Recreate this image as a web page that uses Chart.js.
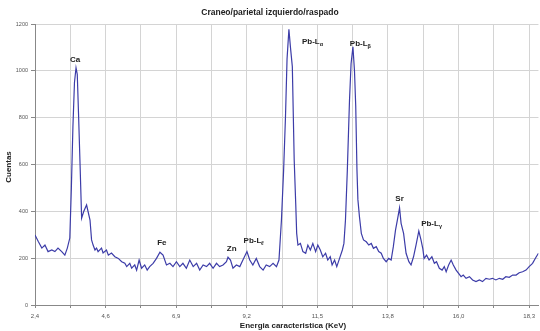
<!DOCTYPE html>
<html>
<head>
<meta charset="utf-8">
<script src="https://cdn.jsdelivr.net/npm/chart.js@4.4.0/dist/chart.umd.min.js"></script>
<style>
    html, body { margin: 0; padding: 0; background: #fff; }
</style>
</head>
<body>
<canvas id="espectro" width="540" height="331"></canvas>
<script>
// Espectro XRF - craneo / parietal izquierdo / raspado

// energia (keV) y cuentas
const energia = [
    2.40, 2.51, 2.62, 2.72, 2.82, 2.94, 3.04, 3.14, 3.26, 3.36, 3.44, 3.52, 3.57, 3.62, 3.67, 3.72,
    3.76, 3.80, 3.85, 3.90, 3.97, 4.06, 4.17, 4.22, 4.27, 4.33, 4.38, 4.43, 4.54, 4.59, 4.70, 4.76,
    4.86, 4.97, 5.08, 5.19, 5.29, 5.35, 5.45, 5.51, 5.61, 5.67, 5.75, 5.83, 5.93, 6.01, 6.09, 6.20,
    6.31, 6.42, 6.52, 6.63, 6.74, 6.84, 6.95, 7.06, 7.16, 7.27, 7.38, 7.49, 7.60, 7.70, 7.81, 7.92,
    8.02, 8.13, 8.24, 8.34, 8.45, 8.56, 8.61, 8.69, 8.77, 8.88, 8.99, 9.09, 9.22, 9.31, 9.41, 9.52,
    9.63, 9.74, 9.84, 9.95, 10.06, 10.17, 10.25, 10.33, 10.40, 10.46, 10.51, 10.57, 10.62, 10.68, 10.74, 10.79,
    10.82, 10.86, 10.94, 11.02, 11.11, 11.18, 11.26, 11.34, 11.43, 11.50, 11.58, 11.66, 11.75, 11.82, 11.90, 11.96,
    12.04, 12.11, 12.20, 12.29, 12.34, 12.39, 12.45, 12.52, 12.57, 12.63, 12.68, 12.72, 12.76, 12.79, 12.84, 12.90,
    12.97, 13.06, 13.14, 13.22, 13.29, 13.38, 13.46, 13.54, 13.61, 13.70, 13.78, 13.86, 13.93, 14.00, 14.07, 14.13,
    14.18, 14.26, 14.34, 14.43, 14.50, 14.58, 14.66, 14.75, 14.82, 14.88, 14.92, 15.00, 15.08, 15.17, 15.25, 15.32,
    15.41, 15.50, 15.57, 15.63, 15.71, 15.79, 15.86, 15.95, 16.03, 16.11, 16.18, 16.27, 16.38, 16.48, 16.59, 16.70,
    16.80, 16.91, 17.02, 17.12, 17.23, 17.34, 17.45, 17.55, 17.66, 17.77, 17.88, 17.98, 18.09, 18.20, 18.30, 18.41,
    18.52, 18.60
];
const cuentas = [
    299, 270, 243, 256, 228, 235, 228, 243, 228, 213, 243, 286, 500, 760, 950, 1013,
    985, 820, 600, 371, 400, 427, 363, 278, 256, 235, 243, 228, 243, 222, 235, 213,
    222, 206, 199, 185, 178, 164, 178, 157, 171, 149, 192, 157, 171, 149, 164, 178,
    199, 225, 213, 171, 178, 164, 185, 164, 178, 157, 192, 164, 178, 149, 171, 164,
    178, 157, 178, 164, 171, 185, 204, 192, 157, 171, 164, 192, 228, 192, 171, 199,
    164, 149, 171, 164, 178, 164, 192, 363, 576, 804, 1050, 1177, 1100, 1018, 620, 430,
    306, 256, 263, 228, 221, 256, 235, 263, 228, 256, 235, 206, 221, 192, 206, 171,
    192, 164, 199, 235, 263, 363, 576, 875, 1030, 1103, 1000, 850, 576, 450, 377, 306,
    278, 270, 256, 263, 242, 249, 228, 221, 199, 185, 199, 192, 249, 320, 370, 415,
    349, 306, 221, 185, 171, 206, 256, 316, 278, 240, 199, 213, 192, 206, 178, 185,
    157, 149, 164, 142, 171, 192, 171, 149, 135, 121, 128, 114, 121, 107, 100, 107,
    100, 114, 110, 114, 107, 114, 110, 121, 118, 128, 128, 138, 142, 149, 164, 178,
    204, 221
];

// etiquetas del eje X (cada dos lineas de grilla)
const xTickLabels = ['2,4', '4,6', '6,9', '9,2', '11,5', '13,8', '16,0', '18,3'];
const yTicks = [0, 200, 400, 600, 800, 1000, 1200];

// picos identificados
const picoNombre = ['Ca', 'Fe', 'Zn', 'Pb-L', 'Pb-L', 'Pb-L', 'Sr', 'Pb-L'];
const picoSub    = ['', '', '', 'ℓ', 'α', 'β', '', 'γ'];
const picoE      = [3.69, 6.48, 8.73, 9.44, 11.33, 12.87, 14.13, 15.16];
const picoY      = [1046, 265, 239, 273, 1123, 1114, 453, 346];

const X_MIN = 2.4;
const X_MAX = 18.6;
const X_STEP = (18.3 - 2.4) / 14;

// titulos y etiquetas de picos
const textosPlugin = {
    id: 'textos',
    afterDraw(chart) {
        const ctx = chart.ctx;
        const xs = chart.scales.x;
        const ys = chart.scales.y;
        ctx.save();
        ctx.fillStyle = '#222';
        ctx.textBaseline = 'middle';
        ctx.textAlign = 'center';

        ctx.font = 'bold 8.5px "Liberation Sans", Arial, sans-serif';
        ctx.fillText('Craneo/parietal izquierdo/raspado', 270, 13);

        ctx.font = 'bold 8px "Liberation Sans", Arial, sans-serif';
        ctx.fillText('Energia caracteristica (KeV)', 293, 326);

        ctx.save();
        ctx.translate(9, 167);
        ctx.rotate(-Math.PI / 2);
        ctx.fillText('Cuentas', 0, 0);
        ctx.restore();

        // picos
        picoNombre.forEach((nombre, i) => {
            const px = xs.getPixelForValue(picoE[i]);
            const py = ys.getPixelForValue(picoY[i]);
            ctx.font = 'bold 8px "Liberation Sans", Arial, sans-serif';
            const w1 = ctx.measureText(nombre).width;
            ctx.font = 'bold 5.5px "Liberation Sans", Arial, sans-serif';
            const w2 = picoSub[i] ? ctx.measureText(picoSub[i]).width : 0;
            const x0 = px - (w1 + w2) / 2;
            ctx.textAlign = 'left';
            ctx.font = 'bold 8px "Liberation Sans", Arial, sans-serif';
            ctx.fillText(nombre, x0, py);
            if (picoSub[i]) {
                ctx.font = 'bold 5.5px "Liberation Sans", Arial, sans-serif';
                ctx.fillText(picoSub[i], x0 + w1, py + 2.5);
            }
        });
        ctx.restore();
    }
};

new Chart(document.getElementById('espectro').getContext('2d'), {
    type: 'line',
    data: {
        datasets: [{
            data: energia.map((e, i) => ({ x: e, y: cuentas[i] })),
            borderColor: '#3c3ca8',
            borderWidth: 1.2,
            pointRadius: 0,
            tension: 0,
            fill: false
        }]
    },
    options: {
        responsive: false,
        devicePixelRatio: 1,
        animation: false,
        layout: { padding: { left: 0, right: 1, top: 24, bottom: 0 } },
        plugins: {
            legend: { display: false },
            title: { display: false },
            tooltip: { enabled: false }
        },
        scales: {
            x: {
                type: 'linear',
                min: X_MIN,
                max: X_MAX,
                afterBuildTicks: scale => {
                    const t = [];
                    for (let k = 0; k <= 14; k++) t.push({ value: X_MIN + k * X_STEP });
                    scale.ticks = t;
                },
                afterFit: scale => { scale.height = 26; },
                grid: { color: '#d4d4d4', tickLength: 3, tickColor: '#888' },
                border: { color: '#888' },
                ticks: {
                    autoSkip: false,
                    maxRotation: 0,
                    padding: 5,
                    color: '#555',
                    font: { size: 6, family: '"Liberation Sans", Arial, sans-serif' },
                    callback: (v, i) => (i % 2 === 0 ? xTickLabels[i / 2] : '')
                }
            },
            y: {
                min: 0,
                max: 1200,
                afterBuildTicks: scale => {
                    scale.ticks = yTicks.map(v => ({ value: v }));
                },
                afterFit: scale => { scale.width = 35; },
                grid: { color: '#d4d4d4', tickLength: 4, tickColor: '#888' },
                border: { color: '#888' },
                ticks: {
                    padding: 3,
                    color: '#555',
                    font: { size: 5.5, family: '"Liberation Sans", Arial, sans-serif' },
                    callback: v => String(v)
                }
            }
        }
    },
    plugins: [textosPlugin]
});
</script>
</body>
</html>
